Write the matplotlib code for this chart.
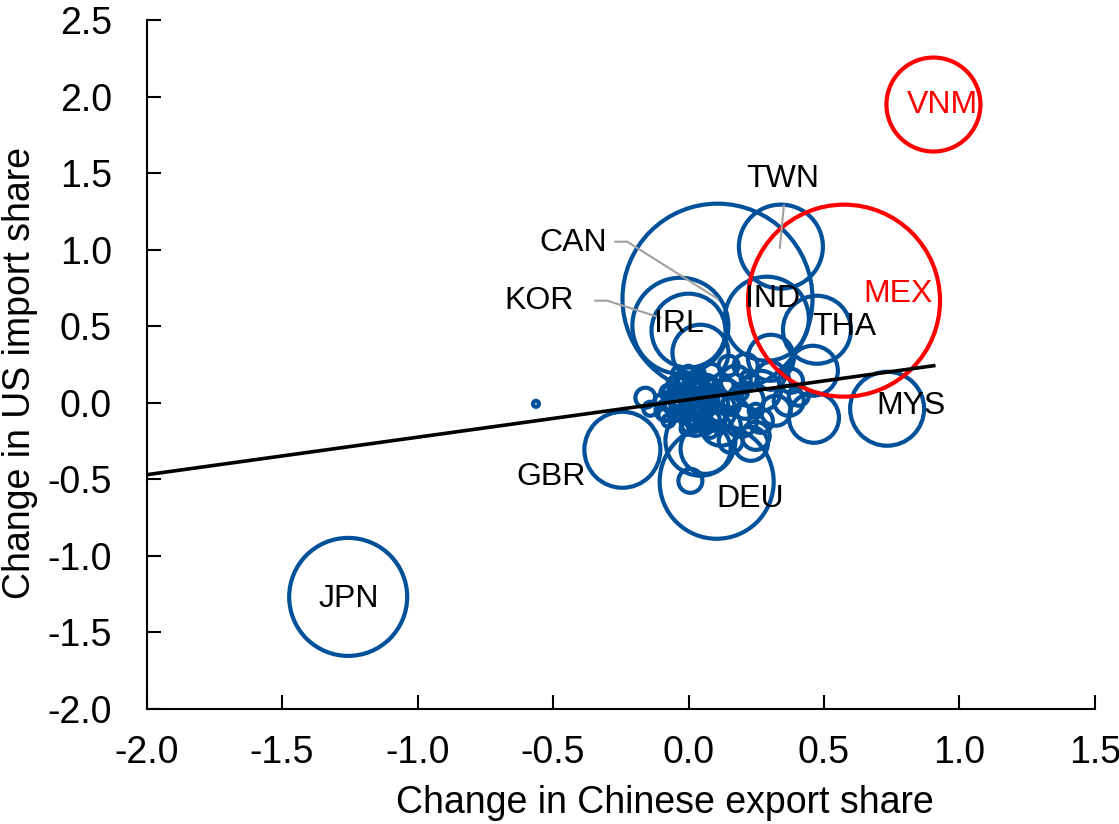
import matplotlib.pyplot as plt
import numpy as np

plt.rcParams['font.family'] = ['Liberation Sans', 'DejaVu Sans']

# labelled economies: change in Chinese export share, change in US import share, bubble radius (px)
names = ['JPN', 'VNM', 'MEX', 'CAN', 'TWN', 'IND', 'THA', 'MYS', 'KOR', 'IRL', 'GBR', 'DEU']
lab_x = [-1.256, 0.904, 0.574, 0.107, 0.341, 0.289, 0.474, 0.733, -0.030, 0.0, -0.244, 0.104]
lab_y = [-1.268, 1.948, 0.667, 0.680, 1.020, 0.549, 0.477, -0.039, 0.503, 0.471, -0.307, -0.516]
lab_r = [59, 47, 96, 95, 42, 42, 34, 37, 48, 37, 38, 57]
highlight = ['VNM', 'MEX']

# unlabelled economies
oth_x = [0.044, 0.304, 0.459, 0.463, 0.370, 0.063, 0.044, 0.230, 0.007, -0.159, -0.141, -0.563,
         0.007, 0.044, -0.011, 0.063, 0.100, 0.137, 0.174, 0.211, 0.267, 0.193, 0.119, 0.304,
         0.378, 0.322, 0.407, 0.267, 0.026, -0.048, -0.085, 0.081, 0.148, 0.211, -0.030, 0.044,
         0.007, 0.026, 0.0, 0.052, 0.248, 0.156, 0.030, 0.075, -0.015,
         -0.074, -0.044, -0.015, 0.015, 0.044, -0.059, -0.022, 0.007, 0.044, 0.074, 0.089,
         -0.089, 0.111, 0.063, -0.030, 0.026, 0.081, 0.137, 0.156, 0.193, 0.222, 0.248,
         -0.104, -0.067, -0.037, 0.0, 0.037, 0.067, 0.104, 0.059, -0.007, -0.044, 0.022,
         -0.007, 0.089, -0.074]
oth_y = [0.327, 0.294, 0.209, -0.098, 0.013, -0.301, -0.248, -0.268, -0.510, 0.033, -0.039, -0.007,
         0.046, 0.013, -0.020, 0.092, -0.052, 0.046, 0.144, 0.013, 0.078, -0.118, -0.150, 0.176,
         0.144, -0.052, 0.046, -0.118, -0.118, 0.013, -0.052, 0.176, 0.242, 0.242, 0.111, -0.052,
         0.078, 0.026, 0.0, 0.065, -0.216, -0.248, 0.120, 0.030, 0.060,
         0.065, 0.118, 0.157, 0.105, 0.144, -0.013, -0.065, -0.105, -0.078, -0.013, 0.065,
         -0.078, -0.065, -0.150, 0.039, -0.020, -0.183, 0.111, -0.020, 0.065, 0.157, -0.052,
         0.013, 0.078, 0.196, 0.196, 0.196, 0.131, 0.026, 0.039, 0.026, -0.078, -0.144,
         -0.170, -0.105, -0.118]
oth_r = [28, 23, 25, 25, 15, 25, 35, 17, 12, 10, 7, 3,
         22, 18, 15, 14, 20, 16, 15, 18, 20, 16, 20, 14,
         12, 15, 10, 12, 15, 12, 10, 12, 10, 12, 8, 8,
         6, 5, 5, 6, 14, 12, 9, 8, 7,
         8, 9, 7, 10, 8, 9, 8, 7, 9, 8, 7,
         6, 9, 8, 10, 10, 7, 8, 9, 7, 8, 7,
         6, 7, 6, 7, 6, 7, 7, 6, 8, 6, 7,
         6, 7, 6]

# fitted line
fit_x = [-2.0, 0.905]
fit_y = [-0.47, 0.242]

# label positions
txt_pos = {'JPN': (-1.253, -1.280), 'VNM': (0.937, 1.948), 'MEX': (0.774, 0.712),
           'CAN': (-0.427, 1.042), 'TWN': (0.348, 1.462), 'IND': (0.311, 0.680),
           'THA': (0.574, 0.497), 'MYS': (0.822, -0.020), 'KOR': (-0.552, 0.667),
           'IRL': (-0.037, 0.516), 'GBR': (-0.507, -0.484), 'DEU': (0.226, -0.627)}

blue = '#00509A'
red = '#FF0000'


def px_to_s(r):
    # radius in pixels at dpi 100 -> marker area in points^2
    return (2 * r * 0.72) ** 2


fig = plt.figure(figsize=(11.19, 8.24), dpi=100)
ax = fig.add_axes([0.131, 0.1396, 0.8475, 0.8361])

ax.scatter(oth_x, oth_y, s=[px_to_s(r) for r in oth_r], facecolors='none',
           edgecolors=blue, linewidths=3, zorder=2)

blue_idx = [i for i, n in enumerate(names) if n not in highlight]
red_idx = [i for i, n in enumerate(names) if n in highlight]
ax.scatter([lab_x[i] for i in blue_idx], [lab_y[i] for i in blue_idx],
           s=[px_to_s(lab_r[i]) for i in blue_idx], facecolors='none',
           edgecolors=blue, linewidths=3, zorder=2)
ax.scatter([lab_x[i] for i in red_idx], [lab_y[i] for i in red_idx],
           s=[px_to_s(lab_r[i]) for i in red_idx], facecolors='none',
           edgecolors=red, linewidths=3, zorder=3)

ax.plot(fit_x, fit_y, color='black', lw=2.6, zorder=4)

# leader lines
ax.plot([-0.270, -0.226, 0.107], [1.052, 1.052, 0.680], color='#A0A0A0', lw=1.5, zorder=5)
ax.plot([-0.344, -0.300, -0.104], [0.667, 0.667, 0.556], color='#A0A0A0', lw=1.5, zorder=5)
ax.plot([0.352, 0.337], [1.288, 1.013], color='#A0A0A0', lw=1.5, zorder=5)

for n in names:
    tx, ty = txt_pos[n]
    c = red if n in highlight else 'black'
    ax.text(tx, ty, n, color=c, fontsize=23, ha='center', va='center', zorder=6)

ticks_x = np.arange(-2.0, 1.51, 0.5)
ticks_y = np.arange(-2.0, 2.51, 0.5)
ax.set_xlim(-2.0, 1.5)
ax.set_ylim(-2.0, 2.5)
ax.set_xticks(ticks_x)
ax.set_yticks(ticks_y)
ax.set_xticklabels([f'{v:.1f}' for v in ticks_x])
ax.set_yticklabels([f'{v:.1f}' for v in ticks_y])
ax.tick_params(direction='in', length=10, width=1.5, labelsize=27)
ax.tick_params(axis='x', pad=19)
ax.tick_params(axis='y', pad=25)
for s in ['top', 'right']:
    ax.spines[s].set_visible(False)
for s in ['left', 'bottom']:
    ax.spines[s].set_linewidth(1.5)

ax.set_xlabel('Change in Chinese export share', fontsize=27)
ax.set_ylabel('Change in US import share', fontsize=27)
ax.xaxis.set_label_coords(0.546, -0.111)
ax.yaxis.set_label_coords(-0.115, 0.488)

fig.savefig('out.png', dpi=100)
